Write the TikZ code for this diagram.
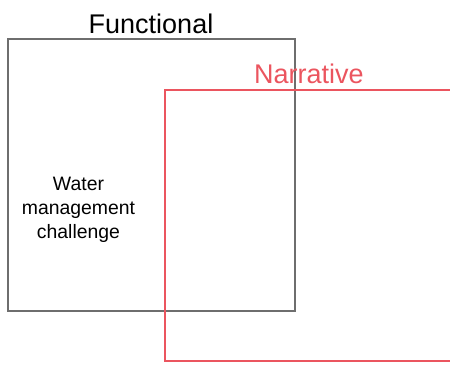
\documentclass[tikz,border=0pt]{standalone}
\usepackage{fontspec}
\setmainfont{Liberation Sans}
\definecolor{boxgray}{RGB}{110,110,110}
\definecolor{narred}{RGB}{235,85,95}
\begin{document}
\begin{tikzpicture}[x=1pt,y=-1pt,
  framebox/.style={line width=1.6pt},
  bigtitle/.style={font=\fontsize{27}{30}\selectfont, inner sep=0pt, anchor=base},
  bodytext/.style={font=\fontsize{19.4}{24}\selectfont, align=center, inner sep=0pt}]
\useasboundingbox (0,0) rectangle (450,365);
\begin{scope}
\clip (0,0) rectangle (450,365);
\draw[framebox, boxgray] (8,39) rectangle (295,311);
\draw[framebox, narred] (165,90) rectangle (452,361);
\end{scope}
\node[bigtitle] (func) at (151,33) {Functional};
\node[bigtitle, text=narred] (narr) at (309,83) {Narrative};
\node[bodytext, anchor=base] (water) at (78.5,238.3) {Water\\management\\challenge};
\end{tikzpicture}
\end{document}
